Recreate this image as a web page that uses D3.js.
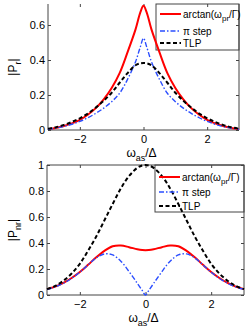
<!DOCTYPE html>
<html>
<head>
<meta charset="utf-8">
<script src="https://cdn.jsdelivr.net/npm/d3@7"></script>
<style>
  body { margin: 0; background: #fff; }
  text { font-family: "Liberation Sans", Arial, sans-serif; }
</style>
</head>
<body>
<div id="chart"></div>
<script>
// detuning grid (omega_as / Delta)
var xs = [-3,-2.75,-2.5,-2.25,-2,-1.75,-1.5,-1.25,-1,-0.75,-0.5,-0.25,-0.1,0,0.1,0.25,0.5,0.75,1,1.25,1.5,1.75,2,2.25,2.5,2.75,3];

// top panel |P_r|
var topArctan = [0.005,0.012,0.023,0.038,0.058,0.087,0.125,0.175,0.24,0.325,0.445,0.575,0.672,0.71,0.672,0.575,0.445,0.325,0.24,0.175,0.125,0.087,0.058,0.038,0.023,0.012,0.005];
var topStep   = [0.004,0.011,0.02,0.033,0.049,0.07,0.095,0.125,0.162,0.21,0.29,0.39,0.475,0.525,0.475,0.39,0.29,0.21,0.162,0.125,0.095,0.07,0.049,0.033,0.02,0.011,0.004];
var topTlp    = [0.007,0.016,0.029,0.046,0.067,0.094,0.128,0.167,0.213,0.27,0.325,0.37,0.381,0.383,0.381,0.37,0.325,0.27,0.213,0.167,0.128,0.094,0.067,0.046,0.029,0.016,0.007];

// bottom panel |P_nr|
var botArctan = [0.045,0.064,0.093,0.131,0.177,0.232,0.29,0.34,0.375,0.381,0.368,0.352,0.346,0.345,0.346,0.352,0.368,0.381,0.375,0.34,0.29,0.232,0.177,0.131,0.093,0.064,0.045];
var botStep   = [0.043,0.062,0.09,0.128,0.175,0.232,0.285,0.316,0.308,0.26,0.18,0.09,0.035,0,0.035,0.09,0.18,0.26,0.308,0.316,0.285,0.232,0.175,0.128,0.09,0.062,0.043];
var botTlp    = [0.045,0.07,0.11,0.165,0.24,0.34,0.45,0.575,0.70,0.82,0.915,0.978,0.996,1,0.996,0.978,0.915,0.82,0.70,0.575,0.45,0.34,0.24,0.165,0.11,0.07,0.045];

var xTicks = [-2, 0, 2];
var topYTicks = [0, 0.2, 0.4, 0.6];
var botYTicks = [0, 0.2, 0.4, 0.6, 0.8, 1];

var svg = d3.select("#chart")
  .append("svg")
  .attr("width", 248).attr("height", 330);

var styles = [
  {name: "arctan", color: "#ff0000", width: 2, dash: null},
  {name: "step", color: "#2a4dff", width: 1.4, dash: "5,2,1.5,2"},
  {name: "tlp", color: "#000000", width: 2, dash: "4,2.5"}
];

function panel(p) {
  var x = d3.scaleLinear().domain([-3, 3]).range([p.left, p.right]);
  var y = d3.scaleLinear().domain([0, p.ymax]).range([p.bottom, p.top]);
  var g = svg.append("g");

  // x axis (ticks inward)
  g.append("g")
    .attr("transform", "translate(0," + p.bottom + ")")
    .call(d3.axisBottom(x).tickValues(xTicks).tickFormat(d3.format("d"))
      .tickSizeInner(-3).tickSizeOuter(0).tickPadding(5))
    .call(function(a) {
      a.select(".domain").remove();
      a.selectAll("line").attr("stroke", "#444");
      a.selectAll("text").attr("font-size", 11).attr("fill", "#000")
        .text(function(d) { return d < 0 ? "\u2212" + Math.abs(d) : d; });
    });
  // mirrored ticks on top
  g.append("g")
    .attr("transform", "translate(0," + p.top + ")")
    .call(d3.axisTop(x).tickValues(xTicks).tickSizeInner(-3).tickSizeOuter(0).tickFormat(""))
    .call(function(a) { a.select(".domain").remove(); a.selectAll("line").attr("stroke", "#444"); });

  // y axis
  g.append("g")
    .attr("transform", "translate(" + p.left + ",0)")
    .call(d3.axisLeft(y).tickValues(p.yTicks).tickFormat(function(d) { return d; })
      .tickSizeInner(-3).tickSizeOuter(0).tickPadding(3))
    .call(function(a) {
      a.select(".domain").remove();
      a.selectAll("line").attr("stroke", "#444");
      a.selectAll("text").attr("font-size", 11).attr("fill", "#000");
    });
  g.append("g")
    .attr("transform", "translate(" + p.right + ",0)")
    .call(d3.axisRight(y).tickValues(p.yTicks).tickSizeInner(-3).tickSizeOuter(0).tickFormat(""))
    .call(function(a) { a.select(".domain").remove(); a.selectAll("line").attr("stroke", "#444"); });

  // frame
  var frame = [[p.left, p.top, p.left, p.bottom], [p.left, p.bottom, p.right, p.bottom], [p.right, p.top, p.right, p.bottom]];
  if (p.topLine) frame.push([p.left, p.top, p.right, p.top]);
  g.selectAll(".frame").data(frame).enter().append("line")
    .attr("x1", function(d) { return d[0]; }).attr("y1", function(d) { return d[1]; })
    .attr("x2", function(d) { return d[2]; }).attr("y2", function(d) { return d[3]; })
    .attr("stroke", "#444").attr("stroke-width", 1);

  // legend box (drawn before the curves, no fill, so curves show through)
  var lg = p.legend;
  g.append("rect")
    .attr("x", lg.x).attr("y", lg.y).attr("width", lg.w).attr("height", lg.h)
    .attr("fill", "none").attr("stroke", "#444").attr("stroke-width", 1);

  // curves
  var line = d3.line()
    .x(function(d, i) { return x(xs[i]); })
    .y(function(d) { return y(d); })
    .curve(d3.curveCatmullRom.alpha(0.5));
  p.series.forEach(function(s, i) {
    g.append("path")
      .attr("d", line(s))
      .attr("fill", "none")
      .attr("stroke", styles[i].color)
      .attr("stroke-width", styles[i].width)
      .attr("stroke-dasharray", styles[i].dash);
  });

  // legend entries
  lg.rows.forEach(function(ry, i) {
    g.append("line")
      .attr("x1", lg.x + 4).attr("x2", lg.x + 25).attr("y1", ry).attr("y2", ry)
      .attr("stroke", styles[i].color).attr("stroke-width", styles[i].width)
      .attr("stroke-dasharray", styles[i].dash);
    var t = g.append("text").attr("x", lg.x + 27).attr("y", ry + 3.5)
      .attr("font-size", 10).attr("fill", "#000");
    if (i === 0) {
      t.append("tspan").text("arctan(\u03c9");
      t.append("tspan").attr("font-size", 8).attr("dy", 3).text("pr");
      t.append("tspan").attr("dy", -3).text("/\u0393)");
    } else if (i === 1) {
      t.text("\u03c0 step");
    } else {
      t.text("TLP");
    }
  });

  // x label
  var xl = g.append("text").attr("x", (p.left + p.right) / 2 - 2).attr("y", p.bottom + 27)
    .attr("text-anchor", "middle").attr("font-size", 12).attr("fill", "#000");
  xl.append("tspan").text("\u03c9");
  xl.append("tspan").attr("font-size", 9).attr("dy", 4).text("as");
  xl.append("tspan").attr("dy", -4).text("/\u0394");

  // y label
  var yl = g.append("text")
    .attr("transform", "translate(" + 17 + "," + ((p.top + p.bottom) / 2) + ") rotate(-90)")
    .attr("text-anchor", "middle").attr("font-size", 12).attr("fill", "#000");
  yl.append("tspan").text("|P");
  yl.append("tspan").attr("font-size", 9).attr("dy", 4).text(p.sub);
  yl.append("tspan").attr("dy", -4).text("|");
}

panel({
  left: 48, right: 239, top: 4, bottom: 130, ymax: 0.72,
  yTicks: topYTicks, topLine: false, sub: "r",
  series: [topArctan, topStep, topTlp],
  legend: {x: 156, y: 4, w: 83, h: 46, rows: [14, 31, 43]}
});

panel({
  left: 47, right: 244, top: 165, bottom: 295, ymax: 1,
  yTicks: botYTicks, topLine: true, sub: "nr",
  series: [botArctan, botStep, botTlp],
  legend: {x: 155, y: 165, w: 89, h: 47, rows: [177, 192, 206]}
});
</script>
</body>
</html>
